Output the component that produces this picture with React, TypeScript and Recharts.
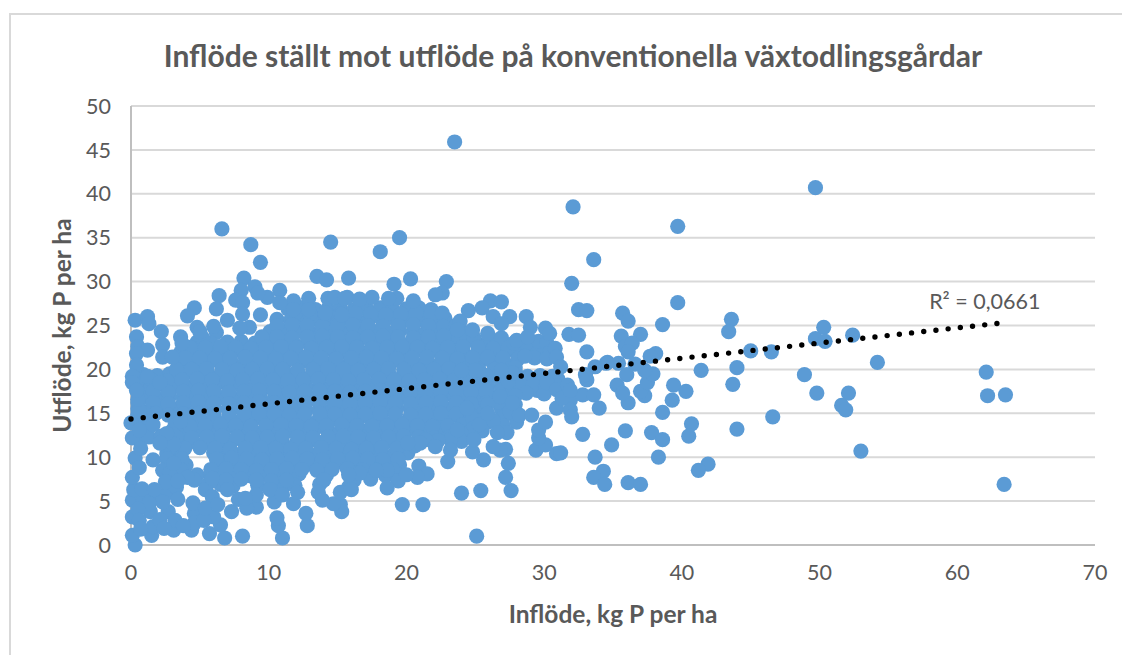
import React from 'react';
import { ScatterChart, Scatter, XAxis, YAxis, CartesianGrid, ReferenceDot, Label } from 'recharts';

type Pt = [number, number];

const xTicks = [0, 10, 20, 30, 40, 50, 60, 70];
const yTicks = [0, 5, 10, 15, 20, 25, 30, 35, 40, 45, 50];

// scattered farms to the right of the main cloud plus the far outliers
const rightTail: Pt[] = [
  [23.5, 45.9], [49.7, 40.7], [39.7, 36.3], [32.1, 38.5], [33.6, 32.5], [32, 29.8], [39.7, 27.6], [32.5, 26.8],
  [33.1, 26.7], [35.7, 26.4], [36.1, 25.5], [38.6, 25.1], [43.6, 25.7], [43.4, 24.3], [31.8, 24], [32.5, 23.9],
  [35.6, 23.8], [37, 24], [33.1, 22], [38.1, 21.8], [37.7, 21.5], [45, 22.1], [46.5, 22], [49.7, 23.5],
  [50.3, 24.8], [50.4, 23.2], [52.4, 23.9], [35.9, 22.6], [36.4, 23], [36.1, 22], [34.6, 20.8], [41.4, 19.9],
  [44, 20.2], [43.7, 18.3], [48.9, 19.4], [49.8, 17.3], [46.6, 14.6], [44, 13.2], [39.4, 18.2], [40.3, 17.5],
  [39.3, 16.5], [38.6, 15.1], [40.7, 13.8], [40.5, 12.4], [37.8, 12.8], [38.6, 12], [38.3, 10], [41.9, 9.2],
  [41.2, 8.5], [35.9, 13], [34.9, 11.4], [33.7, 10], [34.3, 8.4], [33.6, 7.7], [34.4, 6.9], [36.1, 7.1],
  [37, 6.9], [32.8, 12.6], [34, 15.6], [36.1, 16.2], [37.3, 17], [37, 17.5], [37.5, 18.5], [37.9, 19.5],
  [37.3, 19.9], [36.6, 20.6], [36, 19.4], [35.3, 18.2], [35.7, 17.3], [35.4, 20.7], [34.5, 20.7], [33.7, 20.3],
  [33.1, 18.8], [33, 19.4], [31.7, 18.2], [32.8, 17.1], [33.6, 17.1], [31.9, 15.4], [32, 14.6], [31.3, 16.7],
  [31.2, 10.5], [54.2, 20.8], [52.1, 17.3], [51.6, 15.9], [51.9, 15.4], [53, 10.7], [62.1, 19.7], [62.2, 17],
  [63.5, 17.1], [63.4, 6.9], [25.1, 1], [31.9, 17.6],
];

// points along the top edge of the cloud
const upperEdge: Pt[] = [
  [8.7, 34.2], [9.4, 32.2], [8.2, 30.4], [9, 29.4], [8, 29], [7.6, 27.9], [8.1, 27.6], [6.4, 28.4], [6.2, 26.9],
  [6.6, 36], [4.6, 27], [4.1, 26.1], [7, 25.6], [6, 24.9], [8.1, 26.3], [9.4, 26.2], [10.8, 29], [9.9, 28.2],
  [9.2, 28.7], [11.8, 27.8], [12.9, 28.1], [13.5, 30.6], [14.2, 30.2], [14.5, 34.5], [15.8, 30.4], [14.3, 28.1],
  [14.8, 28.2], [15.7, 28.2], [10.8, 27.6], [0.3, 25.6], [1.2, 26], [1.3, 25.2], [2.2, 24.3], [3.6, 23.7],
  [0.4, 23.7], [4.8, 24.8], [0.5, 22.6], [2.3, 22.8], [1.2, 22.2], [0.4, 21.8], [2.3, 21.4], [3, 21.4],
  [3.7, 23], [5, 24.3], [0.4, 20.5], [0.1, 19.2], [1.2, 19.2], [2.1, 18.5], [0.1, 18.5], [8.6, 24.8], [7.9, 24.7],
  [11.8, 26.8], [12.9, 26.8], [14.1, 26.4], [15.3, 26.2], [18.1, 33.4], [19.5, 35], [19.1, 29.7], [20.3, 30.3],
  [22.9, 30], [22.6, 28.7], [22.1, 28.5], [20.5, 27.8], [19.3, 28.1], [18.7, 28.1], [17.5, 28.2], [16.6, 28],
  [15.5, 28.1], [24.5, 26.7], [23.9, 25.5], [26.1, 27.8], [26.9, 27.7], [25.5, 27], [26.3, 26], [27.5, 26],
  [26.9, 25.2], [28.7, 26], [29, 24.8], [30.1, 24.7], [30.4, 24.1], [28, 23.3], [28.8, 23.7], [30.8, 22.4],
  [30.9, 21.4], [31.2, 20.3], [24.8, 24.5], [23.7, 24.5], [25.9, 24.1],
];

// points along the bottom edge of the cloud
const lowerEdge: Pt[] = [
  [15.8, 6.6], [15.2, 4.6], [15.3, 3.8], [18.6, 6.5], [19.7, 4.6], [21.2, 4.6], [24, 5.9], [25.4, 6.2], [27.6, 6.2],
  [27.2, 7.7], [27.4, 9.3], [27.2, 10.9], [25.6, 9.7], [23, 9.5], [20.9, 9], [21.5, 8.1], [20.8, 7.7], [20, 8],
  [18.6, 8.5], [17.8, 8.5], [16.6, 8.2], [15.8, 8], [29.4, 10.8], [30.9, 10.4], [30.1, 11.4], [29.6, 12.2],
  [29.6, 13.1], [30.1, 14], [30.9, 15.6], [28.2, 14.8], [29.1, 14.8], [27.3, 12.8], [26.8, 10.8], [24.8, 10.6],
  [24.9, 12], [23.2, 10.8], [22.1, 11.2], [21, 11.6], [20.1, 11.6], [26.3, 11.2], [26.6, 12.8], [25.3, 13.7],
  [23.7, 13.1], [25.9, 15], [27.7, 16.2], [30.2, 18.5], [30.9, 17.7], [31.9, 16.5],
  [0.3, 0], [1.5, 1.1], [0.1, 1.1], [0.1, 3.2], [0.1, 5.1], [0.2, 6.3], [0.1, 7.7], [0.3, 9.9], [0.1, 12.2],
  [0, 13.9], [5.7, 1.3], [6.8, 0.8], [8.1, 1], [11, 0.8], [10.7, 2.2], [10.6, 3.1], [12.8, 2.2], [12.7, 3.6],
  [14.7, 4.7], [11.8, 4.7], [10.4, 4.9], [9.1, 4.3], [8.4, 4.2], [7.3, 3.8], [6.5, 2.3], [6, 3.2], [4.4, 1.7],
  [3.1, 1.7], [4.6, 3.6], [4.6, 2.5], [2.7, 3.8], [1.6, 2.1], [1.4, 3.8], [1.7, 5.7], [0.9, 5.1], [2.6, 5.9],
  [3.3, 6.6], [4.5, 4.8], [4.1, 7.7], [2.3, 8.5], [1.6, 9.7], [2.8, 8.2], [3.1, 9.3], [2.1, 11.6],
  [5.4, 6.3], [5.9, 7.6], [7, 6.3], [5.9, 5.5], [9.1, 5.7], [10.1, 6.3], [11, 5.7], [12.1, 6], [13.6, 6], [13.9, 5.1],
  [15.2, 6], [16, 6.3], [0.6, 8.8], [0.7, 11], [0.6, 13.1], [0.6, 15.3], [0.5, 16.6], [0.4, 17.6],
  [2.5, 7.2], [3.4, 7.3], [0.8, 6.4], [1.7, 6.3], [3.4, 5.2], [2.3, 4.9], [1.3, 4.7], [0.5, 4.1], [0.6, 2.8],
  [0.7, 1.8], [2.1, 2.9], [3.2, 2.8], [3.8, 2.2], [2.4, 1.9], [5.3, 2.8], [5.4, 4.2], [6.3, 4.6], [7.8, 5.2],
  [8.3, 5.3],
];

const coreHigh: Pt[] = [
  [11.4, 26.9], [12.4, 27], [13.4, 26.8], [14.3, 26.9], [15.2, 27], [16.2, 26.8], [17.1, 26.9], [18.1, 27], [19, 26.8], [20, 26.9], [20.9, 27], [21.8, 26.8],
  [10.6, 25.7], [11.6, 25.6], [12.5, 25.8], [13.4, 25.7], [14.4, 25.5], [15.3, 25.7], [16.3, 25.8], [17.2, 25.6], [18.2, 25.7], [19.1, 25.8], [20, 25.6], [21, 25.7], [21.9, 25.6], [22.8, 25.8],
  [6.2, 24.2], [10.1, 24.3], [11.1, 24.4], [12, 24.3], [13, 24.2], [13.9, 24.4], [14.8, 24.3], [15.8, 24.2], [16.7, 24.4], [17.7, 24.3], [18.6, 24.2], [19.5, 24.4], [20.5, 24.3], [21.4, 24.2], [22.4, 24.4], [23.3, 24.3], [24.2, 24.2],
  [4.8, 23.1], [5.8, 23], [7, 23.1], [8, 23.2], [9, 23], [10, 23.1], [10.9, 23.2], [11.8, 23], [12.8, 23.1], [13.7, 23.2], [14.7, 23], [15.6, 23.1], [16.5, 23.2], [17.5, 23], [18.4, 23.1], [19.4, 23.2], [20.3, 23], [21.2, 23.1], [22.2, 23.2], [23.1, 23], [24.1, 23.1], [25, 23.2], [25.9, 23], [26.9, 23.1],
  [3.6, 21.9], [4.5, 21.8], [5.4, 22], [6.4, 21.9], [7.3, 21.8], [8.2, 22], [9.2, 21.9], [10.1, 21.8], [11.1, 22], [12, 21.9], [13, 21.8], [13.9, 22], [14.8, 21.9], [15.8, 21.8], [16.7, 22], [17.7, 21.9], [18.6, 21.8], [19.5, 22], [20.5, 21.9], [21.4, 21.8], [22.4, 22], [23.3, 21.9], [24.2, 21.8], [25.2, 22], [26.1, 21.9], [27.1, 21.8], [28, 22], [29, 21.9], [29.8, 21.8],
  [3.6, 20.7], [4.6, 20.6], [5.5, 20.8], [6.5, 20.7], [7.4, 20.6], [8.4, 20.8], [9.3, 20.7], [10.3, 20.6], [11.2, 20.8], [12.2, 20.7], [13.1, 20.6], [14, 20.8], [15, 20.7], [15.9, 20.6], [16.9, 20.8], [17.8, 20.7], [18.8, 20.6], [19.7, 20.8], [20.6, 20.7], [21.6, 20.6], [22.5, 20.8], [23.5, 20.7], [24.4, 20.6], [25.3, 20.8], [26.3, 20.7], [27.2, 20.6],
  [0.9, 19.4], [1.9, 19.3], [2.8, 19.5], [3.8, 19.4], [4.7, 19.3], [5.6, 19.5], [6.6, 19.4], [7.5, 19.3], [8.5, 19.5], [9.4, 19.4], [10.4, 19.3], [11.3, 19.5], [12.2, 19.4], [13.2, 19.3], [14.1, 19.5], [15.1, 19.4], [16, 19.3], [16.9, 19.5], [17.9, 19.4], [18.8, 19.3], [19.8, 19.5], [20.7, 19.4], [21.7, 19.3], [22.6, 19.5], [23.5, 19.4], [24.5, 19.3], [25.4, 19.5], [26.4, 19.4], [27.3, 19.3], [28.2, 18.9], [29.2, 18.9], [30.1, 18.9], [31, 18.9],
];

const coreLow: Pt[] = [
  [0.5, 18.1], [1.4, 18], [2.4, 18.2], [3.3, 18.1], [4.3, 18], [5.2, 18.2], [6.1, 18.1], [7.1, 18], [8, 18.2], [9, 18.1], [9.9, 18], [10.9, 18.2], [11.8, 18.1], [12.7, 18], [13.7, 18.2], [14.6, 18.1], [15.6, 18], [16.5, 18.2], [17.4, 18.1], [18.4, 18], [19.3, 18.2], [20.3, 18.1], [21.2, 18], [22.2, 18.2], [23.1, 18.1], [24, 18], [25, 18.2], [25.9, 18.1], [26.9, 18], [27.8, 18.2],
  [0.9, 16.8], [1.9, 16.7], [2.8, 16.9], [3.8, 16.8], [4.7, 16.7], [5.6, 16.9], [6.6, 16.8], [7.5, 16.7], [8.5, 16.9], [9.4, 16.8], [10.4, 16.7], [11.3, 16.9], [12.2, 16.8], [13.2, 16.7], [14.1, 16.9], [15.1, 16.8], [16, 16.7], [16.9, 16.9], [17.9, 16.8], [18.8, 16.7], [19.8, 16.9], [20.7, 16.8], [21.7, 16.7], [22.6, 16.9], [23.5, 16.8], [24.5, 16.7], [25.4, 16.9], [26.4, 16.8], [28.6, 17.6], [29.5, 17.6],
  [0.5, 15.5], [1.4, 15.4], [2.4, 15.6], [3.3, 15.5], [4.3, 15.4], [5.2, 15.6], [6.1, 15.5], [7.1, 15.4], [8, 15.6], [9, 15.5], [9.9, 15.4], [10.9, 15.6], [11.8, 15.5], [12.7, 15.4], [13.7, 15.6], [14.6, 15.5], [15.6, 15.4], [16.5, 15.6], [17.4, 15.5], [18.4, 15.4], [19.3, 15.6], [20.3, 15.5], [21.2, 15.4], [22.2, 15.6], [23.1, 15.5], [24, 15.4], [25, 15.6], [26.9, 15.5],
  [0.9, 14.2], [3.3, 14.3], [4.2, 14.1], [5.1, 14.2], [6.1, 14.3], [7, 14.1], [8, 14.2], [8.9, 14.3], [9.9, 14.1], [10.8, 14.2], [11.7, 14.3], [12.7, 14.1], [13.6, 14.2], [14.6, 14.3], [15.5, 14.1], [16.4, 14.2], [17.4, 14.3], [18.3, 14.1], [19.3, 14.2], [20.2, 14.3], [21.1, 14.1], [22.1, 14.2], [23, 14.3], [24, 14.1],
  [0.7, 13], [3, 13], [3.9, 12.9], [4.8, 13.1], [5.8, 13], [6.7, 12.9], [7.7, 13.1], [8.6, 13], [9.6, 12.9], [10.5, 13.1], [11.4, 13], [12.4, 12.9], [13.3, 13.1], [14.3, 13], [15.2, 12.9], [16.1, 13.1], [17.1, 13], [18, 12.9], [19, 13.1], [19.9, 13], [20.8, 12.9], [21.8, 13.1], [22.7, 13],
  [2.6, 11.7], [3.5, 11.6], [4.5, 11.8], [5.4, 11.7], [6.3, 11.6], [7.3, 11.8], [8.2, 11.7], [9.2, 11.6], [10.1, 11.8], [11, 11.7], [12, 11.6], [12.9, 11.8], [13.9, 11.7], [14.8, 11.6], [15.8, 11.8], [16.7, 11.7], [17.6, 11.6], [18.6, 11.8], [19.5, 11.7],
  [2.6, 10.4], [3.6, 10.3], [6, 10.5], [6.9, 10.4], [7.8, 10.3], [8.8, 10.5], [9.7, 10.4], [10.7, 10.3], [11.6, 10.5], [12.5, 10.4], [13.5, 10.3], [14.4, 10.5], [15.4, 10.4], [16.3, 10.3], [17.2, 10.5], [18.2, 10.4], [19.1, 10.3], [20.1, 10.5],
  [3.1, 9.2], [4, 9.1], [6.3, 9.3], [7.2, 9.2], [8.2, 9.1], [9.1, 9.3], [10.1, 9.2], [11, 9.1], [11.9, 9.3], [12.9, 9.2], [13.8, 9.1], [14.8, 9.3], [15.7, 9.2], [16.6, 9.1], [17.6, 9.3], [18.5, 9.2], [19.5, 9.1],
  [4.8, 8], [5.8, 7.9], [6.7, 8.1], [7.7, 8], [8.6, 7.9], [9.5, 8.1], [10.5, 8], [11.4, 7.9], [12.2, 8.1], [14.2, 8], [18.5, 7.9], [19.3, 8.1],
  [5.5, 6.8], [6.5, 6.9], [7.4, 6.7], [9.2, 6.8], [10.2, 6.9], [11.1, 6.7], [11.9, 6.8], [13.7, 6.9],
];

// farms sitting between the bands above, they close the gaps in the solid area
const coreBetween: Pt[] = [
  [11.9, 26.3], [13, 26.3], [14.1, 26.2], [15.2, 26.3], [16.3, 26.4], [17.4, 26.3], [18.5, 26.2], [19.6, 26.3], [20.7, 26.4], [21.8, 26.3], [22.6, 26.4],
  [10.6, 25], [11.7, 25.1], [12.8, 25], [13.9, 24.9], [15, 25], [16.1, 25.1], [17.2, 25], [18.3, 24.9], [19.4, 25], [20.5, 25.1], [21.6, 25], [22.7, 24.9], [23.6, 25],
  [5.2, 23.6], [9.5, 23.7], [10.6, 23.7], [11.7, 23.6], [12.8, 23.7], [13.9, 23.8], [15, 23.7], [16.1, 23.6], [17.2, 23.7], [18.3, 23.8], [19.4, 23.7], [20.5, 23.6], [21.6, 23.7], [22.7, 23.8], [23.8, 23.7], [24.9, 23.6], [26, 23.7], [26.9, 23.6],
  [4.3, 22.5], [5.4, 22.5], [6.5, 22.6], [7.6, 22.5], [8.7, 22.4], [9.8, 22.5], [10.9, 22.6], [12, 22.5], [13.1, 22.4], [14.2, 22.5], [15.3, 22.6], [16.4, 22.5], [17.5, 22.4], [18.6, 22.5], [19.7, 22.6], [20.8, 22.5], [21.9, 22.4], [23, 22.5], [24.1, 22.6], [25.2, 22.5], [26.3, 22.4], [27.4, 22.5], [28.5, 22.6], [29.5, 22.4],
  [3.9, 21.3], [5, 21.3], [6.1, 21.2], [7.2, 21.3], [8.3, 21.4], [9.4, 21.3], [10.5, 21.2], [11.6, 21.3], [12.7, 21.4], [13.8, 21.3], [14.9, 21.2], [16, 21.3], [17.1, 21.4], [18.2, 21.3], [19.3, 21.2], [20.4, 21.3], [21.5, 21.4], [22.6, 21.3], [23.7, 21.2], [24.8, 21.3], [25.9, 21.4], [27, 21.3], [28.1, 21.2],
  [3.3, 20], [4.4, 20], [5.5, 20.1], [6.6, 20], [7.7, 19.9], [8.8, 20], [9.9, 20.1], [11, 20], [12.1, 19.9], [13.2, 20], [14.3, 20.1], [15.4, 20], [16.5, 19.9], [17.6, 20], [18.7, 20.1], [19.8, 20], [20.9, 19.9], [22, 20], [23.1, 20.1], [24.2, 20], [25.3, 19.9], [26.4, 20], [27.5, 20.1],
  [0.5, 18.8], [1.5, 18.8], [2.6, 18.7], [3.7, 18.8], [4.8, 18.9], [5.9, 18.8], [7, 18.7], [8.1, 18.8], [9.2, 18.9], [10.3, 18.8], [11.4, 18.7], [12.5, 18.8], [13.6, 18.9], [14.7, 18.8], [15.8, 18.7], [16.9, 18.8], [18, 18.9], [19.1, 18.8], [20.2, 18.7], [21.3, 18.8], [22.4, 18.9], [23.5, 18.8], [24.6, 18.7], [25.7, 18.8], [26.8, 18.9], [27.9, 18.8],
  [0.5, 17.5], [1.6, 17.5], [2.7, 17.4], [3.8, 17.5], [4.9, 17.6], [6, 17.5], [7.1, 17.4], [8.2, 17.5], [9.3, 17.6], [10.4, 17.5], [11.5, 17.4], [12.6, 17.5], [13.7, 17.6], [14.8, 17.5], [15.9, 17.4], [17, 17.5], [18.1, 17.6], [19.2, 17.5], [20.3, 17.4], [21.4, 17.5], [22.5, 17.6], [23.6, 17.5], [24.7, 17.4], [25.8, 17.5], [26.9, 17.6], [27.7, 17.4],
  [0.5, 16.2], [1.6, 16.2], [2.7, 16.1], [3.8, 16.2], [4.9, 16.3], [6, 16.2], [7.1, 16.1], [8.2, 16.2], [9.3, 16.3], [10.4, 16.2], [11.5, 16.1], [12.6, 16.2], [13.7, 16.3], [14.8, 16.2], [15.9, 16.1], [17, 16.2], [18.1, 16.3], [19.2, 16.2], [20.3, 16.1], [21.4, 16.2], [22.5, 16.3], [23.6, 16.2], [24.7, 16.1], [25.8, 16.2], [26.7, 16.3],
  [0.5, 14.9], [1.6, 14.9], [2.7, 14.8], [3.8, 14.9], [4.9, 15], [6, 14.9], [7.1, 14.8], [8.2, 14.9], [9.3, 15], [10.4, 14.9], [11.5, 14.8], [12.6, 14.9], [13.7, 15], [14.8, 14.9], [15.9, 14.8], [17, 14.9], [18.1, 15], [19.2, 14.9], [20.3, 14.8], [21.4, 14.9], [22.5, 15], [23.6, 14.9], [24.7, 14.8],
  [0.5, 13.6], [1.4, 13.6], [3.2, 13.6], [4.3, 13.5], [5.4, 13.6], [6.5, 13.7], [7.6, 13.6], [8.7, 13.5], [9.8, 13.6], [10.9, 13.7], [12, 13.6], [13.1, 13.5], [14.2, 13.6], [15.3, 13.7], [16.4, 13.6], [17.5, 13.5], [18.6, 13.6], [19.7, 13.7], [20.8, 13.6], [21.9, 13.5], [23, 13.6], [24.1, 13.7],
  [0.5, 12.3], [1.3, 12.3], [2.2, 12.4], [3.3, 12.3], [4.4, 12.2], [5.5, 12.3], [6.6, 12.4], [7.7, 12.3], [8.8, 12.2], [9.9, 12.3], [11, 12.4], [12.1, 12.3], [13.2, 12.2], [14.3, 12.3], [15.4, 12.4], [16.5, 12.3], [17.6, 12.2], [18.7, 12.3], [19.8, 12.4], [20.9, 12.3], [22, 12.2], [23.1, 12.3],
  [2.8, 11], [3.9, 11], [5, 11.1], [6.1, 11], [7.2, 10.9], [8.3, 11], [9.4, 11.1], [10.5, 11], [11.6, 10.9], [12.7, 11], [13.8, 11.1], [14.9, 11], [16, 10.9], [17.1, 11], [18.2, 11.1], [19.3, 11],
  [2.6, 9.8], [3.7, 9.8], [6.2, 9.8], [7.3, 9.9], [8.4, 9.8], [9.5, 9.7], [10.6, 9.8], [11.7, 9.9], [12.8, 9.8], [13.9, 9.7], [15, 9.8], [16.1, 9.9], [17.2, 9.8], [18.3, 9.7], [19.4, 9.8],
  [2.7, 8.6], [3.6, 8.6], [5.8, 8.6], [6.9, 8.7], [8, 8.6], [9.1, 8.5], [10.2, 8.6], [11.3, 8.7], [12.4, 8.6], [13.5, 8.5], [14.6, 8.6], [15.7, 8.7], [16.8, 8.6], [17.9, 8.5], [19, 8.6],
  [3.2, 7.4], [4.6, 7.4], [5.8, 7.3], [6.9, 7.4], [8, 7.5], [9.1, 7.4], [10.2, 7.3], [11.3, 7.4], [14, 7.4], [16.2, 7.4], [17.4, 7.5], [19.4, 7.3],
];

// right shoulder of the cloud and a few on the far left
const coreShoulder: Pt[] = [
  [27.8, 23], [28.7, 23], [29.6, 23.2], [30.2, 23], [30.4, 21.9], [29.3, 21.3], [30.2, 21.2], [28.6, 21.5], [27.9, 20.2],
  [28, 19.4], [28.8, 19.2], [29.7, 19.3], [30.6, 19.2], [28.3, 18.2], [29.2, 18.2], [30.1, 18.1], [31, 18.1], [28.7, 17.3],
  [30, 17.2], [27.9, 17], [27.9, 16], [27, 14.5], [28, 14], [27, 13.6], [25.5, 14.2], [24.8, 14.4], [25.5, 13], [24.8, 13.2],
  [24, 12.7], [24, 11.8], [23.2, 12], [22.3, 11.9], [21.4, 12], [20.6, 11.3], [25.9, 14], [26.3, 14.2], [27.5, 15.2],
  [24.4, 15.6], [25.9, 16], [26.8, 16.9], [27.4, 18.6], [27.7, 19.6], [26.9, 19.9], [25.8, 19.3], [25, 19.9], [24, 19.9],
  [1.8, 15], [1, 14.9], [1.6, 13.7], [3.1, 11.5], [2.6, 12.7], [3.6, 14.1],
];

const cloud: Pt[] = [...coreHigh, ...coreLow, ...coreBetween, ...coreShoulder, ...upperEdge, ...lowerEdge, ...rightTail];
const farms = cloud.map(([inflow, outflow]) => ({ inflow, outflow }));

const trend = [
  { inflow: 0, outflow: 14.35 },
  { inflow: 63, outflow: 25.25 },
];

const inkGrey = '#595959';

const FarmDot = (props: any) => <circle cx={props.cx} cy={props.cy} r={7.6} fill="#5b9bd5" />;

export default function App() {
  return (
    <div style={{ position: 'absolute', left: 0, top: 0, width: 1122, height: 655, background: '#fff', overflow: 'hidden', fontFamily: 'Lato' }}>
      <div style={{ position: 'absolute', left: 9, top: 13, width: 1130, height: 700, border: '2px solid #d9d9d9' }} />
      <ScatterChart width={1122} height={655} margin={{ top: 106, right: 27, bottom: 70, left: 71 }} style={{ position: 'absolute', left: 0, top: 0 }}>
        <CartesianGrid horizontal vertical={false} stroke="#d9d9d9" strokeWidth={2} />
        <XAxis
          type="number"
          dataKey="inflow"
          domain={[0, 70]}
          ticks={xTicks}
          height={40}
          interval={0}
          tickLine={false}
          axisLine={{ stroke: '#bfbfbf', strokeWidth: 2 }}
          tick={{ fill: inkGrey, fontSize: 21.5 }}
          tickMargin={14}
        >
          <Label value="Inflöde, kg P per ha" position="insideBottom" offset={-38} fill={inkGrey} fontSize={24.5} fontWeight={700} />
        </XAxis>
        <YAxis
          type="number"
          dataKey="outflow"
          domain={[0, 50]}
          ticks={yTicks}
          width={60}
          interval={0}
          tickLine={false}
          axisLine={{ stroke: '#bfbfbf', strokeWidth: 2 }}
          tick={{ fill: inkGrey, fontSize: 21.5 }}
          tickMargin={14}
        >
          <Label value="Utflöde, kg P per ha" angle={-90} position="center" dx={-39} dy={0} fill={inkGrey} fontSize={24.5} fontWeight={700} />
        </YAxis>
        <Scatter data={farms} shape={FarmDot} isAnimationActive={false} />
        <Scatter
          data={trend}
          isAnimationActive={false}
          shape={() => null}
          line={{ stroke: '#000', strokeWidth: 5.4, strokeDasharray: '0 12.27', strokeLinecap: 'round' }}
        />
        <ReferenceDot x={62} y={27.7} r={0} stroke="none" fill="none" ifOverflow="visible">
          <Label value="R² = 0,0661" position="center" fill={inkGrey} fontSize={21.5} />
        </ReferenceDot>
        <text x={573} y={67} textAnchor="middle" fill={inkGrey} fontSize={30} fontWeight={700}>
          Inflöde ställt mot utflöde på konventionella växtodlingsgårdar
        </text>
      </ScatterChart>
    </div>
  );
}
